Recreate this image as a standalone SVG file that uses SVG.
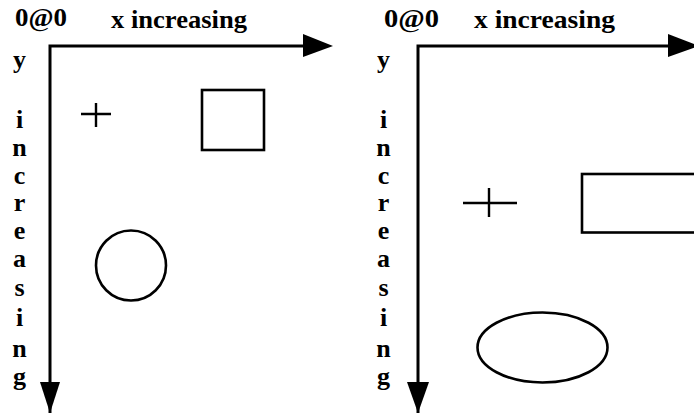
<svg xmlns="http://www.w3.org/2000/svg" width="694" height="415" viewBox="0 0 694 415">
<style>
.lbl{font-family:"Liberation Serif","Times New Roman",serif;font-weight:bold;font-size:26px;fill:#000}
.v{text-anchor:middle}
.ax{stroke:#000;stroke-width:3;fill:none}
.shp{stroke:#000;stroke-width:2.6;fill:none}
.crs{stroke:#000;stroke-width:2.4;fill:none}
.head{fill:#000;stroke:none}
</style>
<rect width="694" height="415" fill="#fff"/>
<g id="connectors">
  <g id="left-axes">
    <path class="ax" d="M50,413 L50,46 L305,46"/>
    <polygon class="head" points="303,34 333,46 303,57"/>
    <polygon class="head" points="40,382 60,382 50,413"/>
  </g>
  <g id="right-axes">
    <path class="ax" d="M418,413 L418,46 L670,46"/>
    <polygon class="head" points="668,34 699,46 668,57"/>
    <polygon class="head" points="407,382 429,382 418,413"/>
  </g>
</g>
<g id="left-labels">
  <text class="lbl" x="15" y="26" textLength="52" lengthAdjust="spacingAndGlyphs">0@0</text>
  <text class="lbl" x="111" y="28" textLength="136" lengthAdjust="spacingAndGlyphs">x increasing</text>
  <g class="lbl v">
    <text x="19.5" y="68">y</text>
    <text x="19.5" y="128">i</text>
    <text x="19.5" y="156">n</text>
    <text x="19.5" y="184">c</text>
    <text x="19.5" y="211">r</text>
    <text x="19.5" y="239">e</text>
    <text x="19.5" y="267">a</text>
    <text x="19.5" y="296">s</text>
    <text x="19.5" y="326">i</text>
    <text x="19.5" y="357">n</text>
    <text x="19.5" y="385">g</text>
  </g>
</g>
<g id="right-labels">
  <text class="lbl" x="384" y="27" textLength="55" lengthAdjust="spacingAndGlyphs">0@0</text>
  <text class="lbl" x="474" y="28" textLength="141" lengthAdjust="spacingAndGlyphs">x increasing</text>
  <g class="lbl v">
    <text x="383.5" y="68">y</text>
    <text x="383.5" y="128">i</text>
    <text x="383.5" y="156">n</text>
    <text x="383.5" y="184">c</text>
    <text x="383.5" y="211">r</text>
    <text x="383.5" y="239">e</text>
    <text x="383.5" y="267">a</text>
    <text x="383.5" y="296">s</text>
    <text x="383.5" y="326">i</text>
    <text x="383.5" y="357">n</text>
    <text x="383.5" y="385">g</text>
  </g>
</g>
<g id="left-cross"><path class="crs" d="M81,114 L111,114 M96,103 L96,127"/></g>
<g id="left-square"><rect class="shp" x="202" y="90" width="62" height="60"/></g>
<g id="left-circle"><circle class="shp" cx="131" cy="265.5" r="35"/></g>
<g id="right-cross"><path class="crs" d="M463,203 L517,203 M489,188 L489,217"/></g>
<g id="right-rect"><rect class="shp" x="582" y="174" width="130" height="58.5"/></g>
<g id="right-ellipse"><ellipse class="shp" cx="542.5" cy="347.5" rx="65" ry="35"/></g>
</svg>
